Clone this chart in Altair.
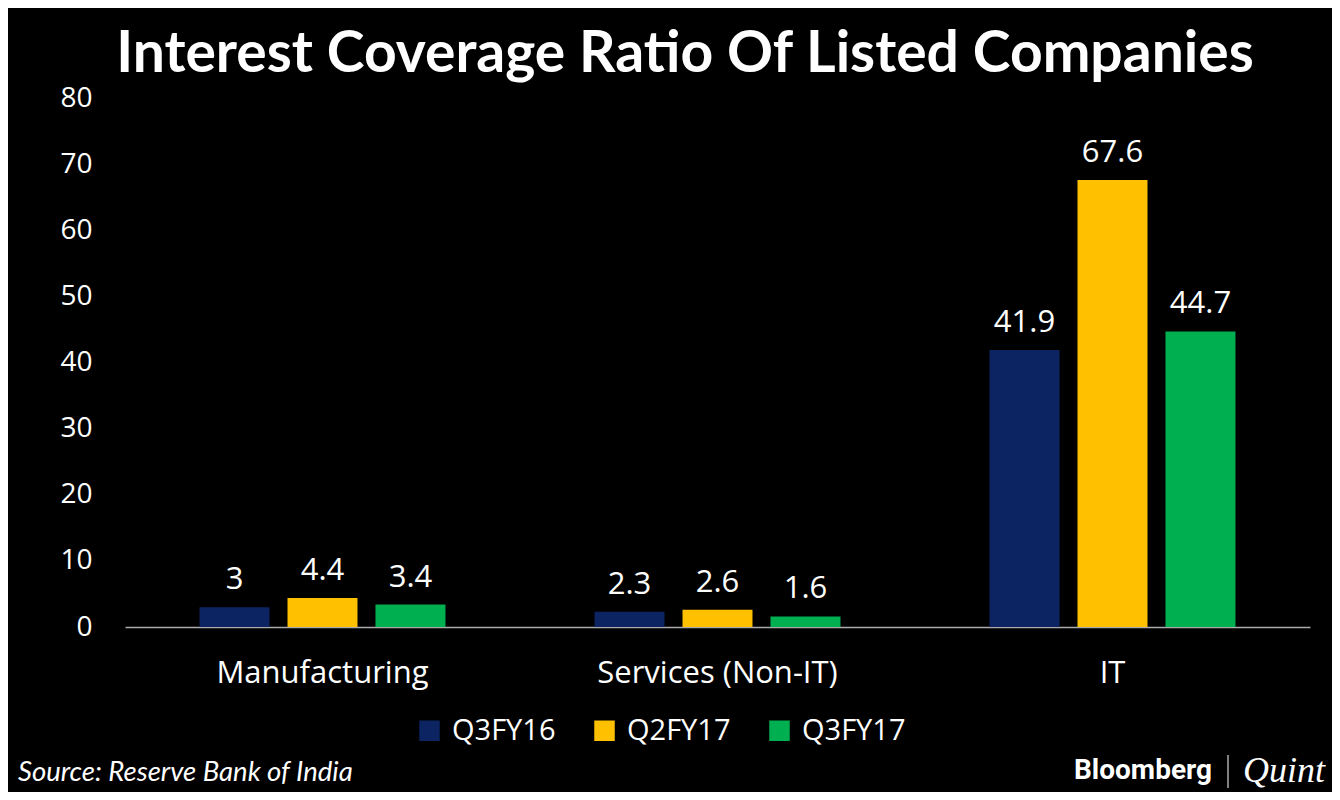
import altair as alt
import pandas as pd

categories = ["Manufacturing", "Services (Non-IT)", "IT"]
series = ["Q3FY16", "Q2FY17", "Q3FY17"]
values = {
    "Q3FY16": [3, 2.3, 41.9],
    "Q2FY17": [4.4, 2.6, 67.6],
    "Q3FY17": [3.4, 1.6, 44.7],
}
labels = {
    "Q3FY16": ["3", "2.3", "41.9"],
    "Q2FY17": ["4.4", "2.6", "67.6"],
    "Q3FY17": ["3.4", "1.6", "44.7"],
}
colors = ["#0C2461", "#FFC000", "#00B050"]

rows = []
for s in series:
    for c, v, l in zip(categories, values[s], labels[s]):
        rows.append({"sector": c, "period": s, "value": v, "label": l})
df = pd.DataFrame(rows)

FONT = "Open Sans"
TFONT = "Lato"

x_enc = alt.X("sector:N", sort=categories,
              scale=alt.Scale(paddingInner=0, paddingOuter=0),
              axis=alt.Axis(title=None, labelAngle=0, labelFontSize=31, labelColor="white",
                            labelFont=FONT, ticks=False, domainColor="#AAAAAA", labelLimit=0,
                            domainWidth=1.5, labelPadding=31))
xoff = alt.XOffset("period:N", sort=series,
                   scale=alt.Scale(paddingInner=0.2045, paddingOuter=0.847))
y_enc = alt.Y("value:Q", scale=alt.Scale(domain=[0, 80]),
              axis=alt.Axis(title=None, values=list(range(0, 81, 10)), grid=False, domain=False,
                            ticks=False, labelFontSize=28, labelColor="white", labelFont=FONT,
                            labelPadding=33))

bars = alt.Chart(df).mark_bar().encode(
    x=x_enc, xOffset=xoff, y=y_enc,
    color=alt.Color("period:N", sort=series,
                    scale=alt.Scale(domain=series, range=colors),
                    legend=alt.Legend(title=None, orient="none", legendX=290, legendY=618,
                                      direction="horizontal", symbolType="square",
                                      symbolSize=420, symbolStrokeWidth=0,
                                      labelFontSize=29, labelColor="white", labelFont=FONT,
                                      labelOffset=8, columnPadding=34)),
)

text = alt.Chart(df).mark_text(baseline="bottom", dy=-11, fontSize=31, color="white", font=FONT).encode(
    x=alt.X("sector:N", sort=categories), xOffset=xoff, y="value:Q", text="label:N"
)

one = pd.DataFrame({"a": [1]})
title = alt.Chart(one).mark_text(text="Interest Coverage Ratio Of Listed Companies", fontSize=57,
                                 fontWeight="bold", font=TFONT, color="white",
                                 baseline="middle", align="center").encode(
    x=alt.value(560), y=alt.value(-43))
source = alt.Chart(one).mark_text(text="Source: Reserve Bank of India", fontSize=27.5, fontStyle="italic",
                                  font=TFONT, color="white", baseline="middle", align="left").encode(
    x=alt.value(-107), y=alt.value(675))
bloom = alt.Chart(one).mark_text(text="Bloomberg", fontSize=28, fontWeight="bold", font="Roboto",
                                 color="white", baseline="middle", align="right").encode(
    x=alt.value(1087), y=alt.value(673))
sep = alt.Chart(one).mark_rule(color="white", strokeWidth=1).encode(
    x=alt.value(1103), y=alt.value(657), y2=alt.value(690))
quint = alt.Chart(one).mark_text(text="Quint", fontSize=36, fontStyle="italic",
                                 font="Liberation Serif", color="white", baseline="middle",
                                 align="left").encode(x=alt.value(1118), y=alt.value(673))

chart = alt.layer(bars, text, title, source, bloom, sep, quint).properties(
    width=1185, height=529,
    autosize=alt.AutoSizeParams(type="none"),
    padding={"left": 117, "top": 90, "right": 22, "bottom": 165},
    background="black",
).configure_view(stroke=None)

chart.save("out.html", embed_options={"renderer": "svg", "actions": False})
